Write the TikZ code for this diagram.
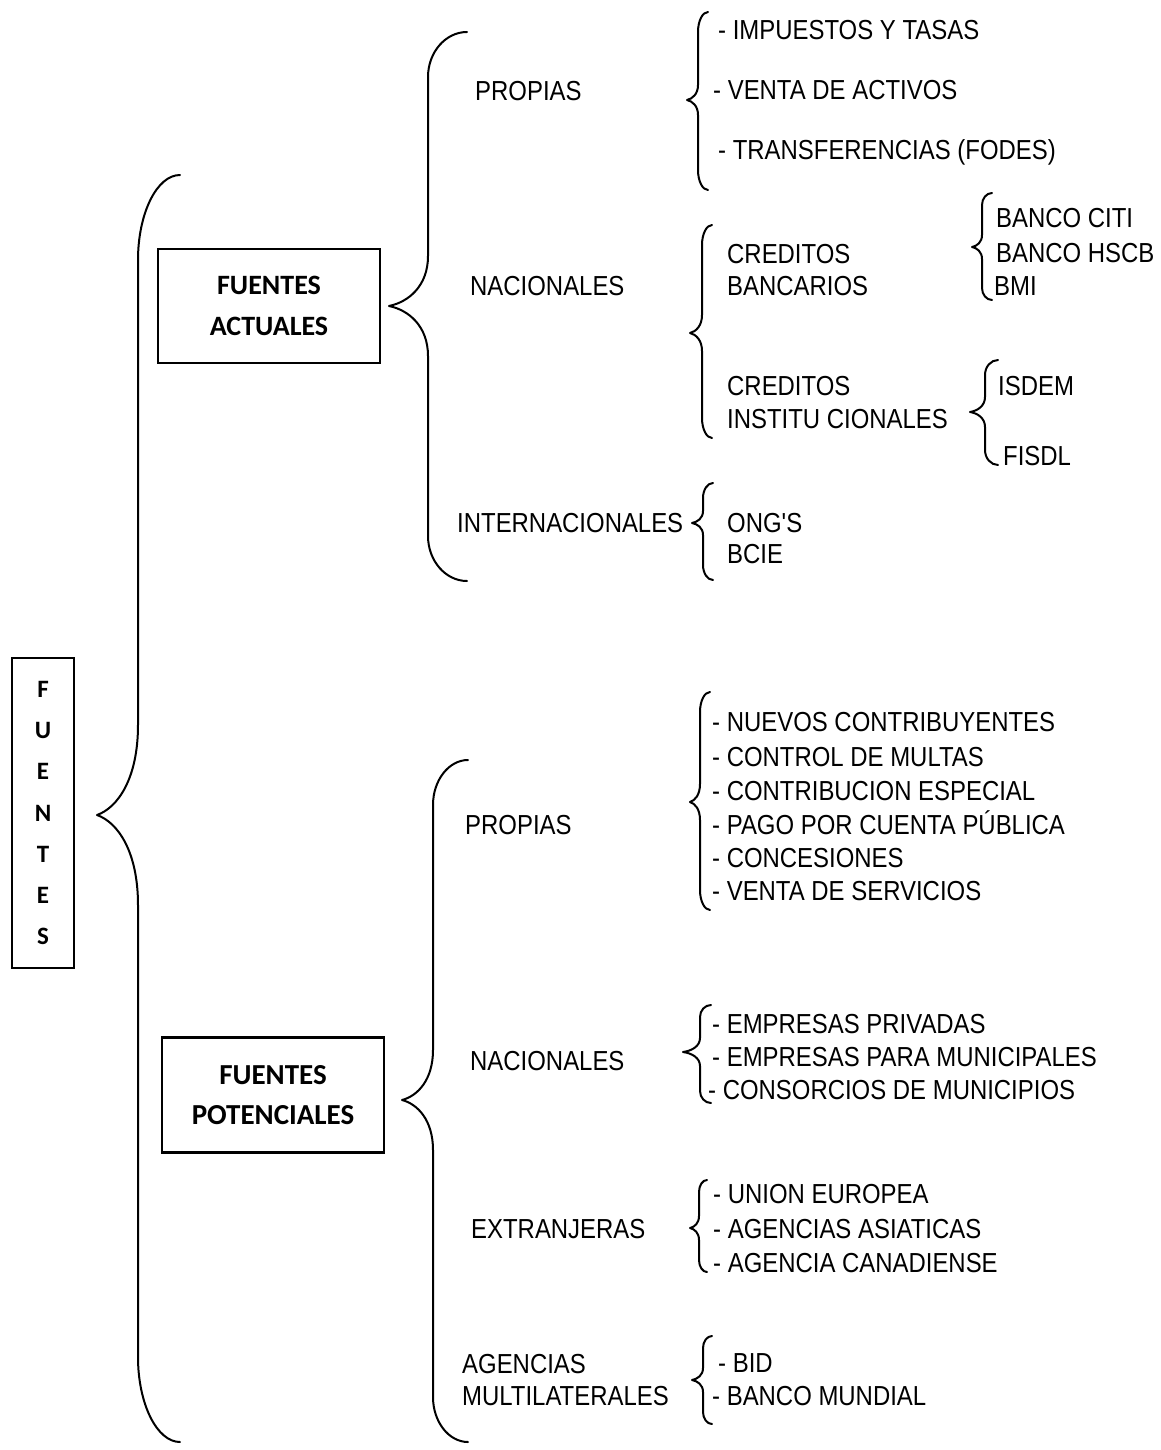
\documentclass[tikz,border=0pt]{standalone}
\usepackage{fontspec}
\setmainfont{Liberation Sans}[FakeStretch=0.87]
\newfontfamily\cajafont{Carlito}
\usetikzlibrary{calc}

% apostrofe recto, sin la conversion de comillas
\newcommand{\apos}{{\font\aposfont="Liberation Sans:extend=0.87" at 27.5pt\aposfont'}}

% llave: xfin, xlinea, xpunta, yarriba, ypunta, yabajo, hfin, hpunta
\newcommand{\llave}[8]{%
  \draw[llave] (#1,#4) .. controls ({#2+0.45*(#1-#2)},#4) and (#2,{#4+0.45*#7}) .. (#2,{#4+#7})
    -- (#2,{#5-#8}) .. controls (#2,{#5-0.4*#8}) and ({#3+0.5*(#2-#3)},{#5-0.08*#8}) .. (#3,#5)
    .. controls ({#3+0.5*(#2-#3)},{#5+0.08*#8}) and (#2,{#5+0.4*#8}) .. (#2,{#5+#8})
    -- (#2,{#6-#7}) .. controls (#2,{#6-0.45*#7}) and ({#2+0.45*(#1-#2)},#6) .. (#1,#6);}

\begin{document}
\begin{tikzpicture}[x=1pt,y=-1pt,
  txt/.style={anchor=base west,inner sep=0pt,font=\fontsize{27.5}{30}\selectfont},
  caja/.style={draw,line width=2.4pt,inner sep=0pt,align=center,font=\cajafont\bfseries\fontsize{28}{41}\selectfont},
  llave/.style={line width=2pt,line cap=round,line join=round}]

\useasboundingbox (0,0) rectangle (1161,1450);

\node[caja,minimum width=62,minimum height=310,font=\cajafont\bfseries\fontsize{25}{41.3}\selectfont] (fuentes) at (43,813) {F\\U\\E\\N\\T\\E\\S};

\node[caja,minimum width=222,minimum height=114] (actuales) at (269,306) {FUENTES\\ACTUALES};
\node[caja,minimum width=222,minimum height=115,font=\cajafont\bfseries\fontsize{29}{40}\selectfont] (potenciales) at (273,1095) {FUENTES\\POTENCIALES};

% fuentes actuales
\node[txt] (propiasA) at (475,101) {PROPIAS};
\node[txt] (impuestos) at (718,40) {- IMPUESTOS Y TASAS};
\node[txt] (activos) at (713,100) {- VENTA DE ACTIVOS};
\node[txt] (fodes) at (718,160) {- TRANSFERENCIAS (FODES)};

\node[txt] (nacA) at (470,295) {NACIONALES};
\node[txt] (credB1) at (727,263) {CREDITOS};
\node[txt] (credB2) at (727,295) {BANCARIOS};
\node[txt] (citi) at (996,227) {BANCO CITI};
\node[txt] (hscb) at (996,262) {BANCO HSCB};
\node[txt] (bmi) at (994,295) {BMI};
\node[txt] (credI1) at (727,395) {CREDITOS};
\node[txt] (credI2) at (727,428) {INSTITU CIONALES};
\node[txt] (isdem) at (998,395) {ISDEM};
\node[txt] (fisdl) at (1003,465) {FISDL};

\node[txt] (interA) at (457,532) {INTERNACIONALES};
\node[txt] (ongs) at (727,532) {ONG\apos S};
\node[txt] (bcie) at (727,563) {BCIE};

% fuentes potenciales
\node[txt] (propiasP) at (465,834) {PROPIAS};
\node[txt] (contrib) at (712,731) {- NUEVOS CONTRIBUYENTES};
\node[txt] (multas) at (712,766) {- CONTROL DE MULTAS};
\node[txt] (especial) at (712,800) {- CONTRIBUCION ESPECIAL};
\node[txt] (pago) at (712,834) {- PAGO POR CUENTA PÚBLICA};
\node[txt] (concesiones) at (712,867) {- CONCESIONES};
\node[txt] (servicios) at (712,900) {- VENTA DE SERVICIOS};

\node[txt] (nacP) at (470,1070) {NACIONALES};
\node[txt] (privadas) at (712,1033) {- EMPRESAS PRIVADAS};
\node[txt] (paramun) at (712,1066) {- EMPRESAS PARA MUNICIPALES};
\node[txt] (consorcios) at (708,1099) {- CONSORCIOS DE MUNICIPIOS};

\node[txt] (extP) at (471,1238) {EXTRANJERAS};
\node[txt] (europea) at (713,1203) {- UNION EUROPEA};
\node[txt] (asiaticas) at (713,1238) {- AGENCIAS ASIATICAS};
\node[txt] (canadiense) at (713,1272) {- AGENCIA CANADIENSE};

\node[txt] (agen1) at (462,1373) {AGENCIAS};
\node[txt] (agen2) at (462,1405) {MULTILATERALES};
\node[txt] (bid) at (718,1372) {- BID};
\node[txt] (mundial) at (712,1405) {- BANCO MUNDIAL};

% llaves
\llave{180}{138}{97}{175}{815}{1442}{85}{90}
\llave{467}{428}{389}{32}{306}{581}{45}{50}
\llave{468}{433}{402}{760}{1100}{1442}{45}{50}

\llave{708}{698}{687}{12}{100}{190}{20}{15}
\llave{712}{702}{690}{225}{333}{438}{20}{18}
\llave{992}{982}{972}{193}{247}{300}{12}{12}
\llave{998}{985}{970}{360}{412}{465}{15}{15}
\llave{713}{703}{692}{483}{523}{580}{15}{12}

\llave{710}{700}{690}{692}{802}{910}{20}{18}
\llave{711}{700}{683}{1005}{1052}{1103}{12}{14}
\llave{707}{699}{690}{1180}{1228}{1272}{12}{12}
\llave{712}{703}{692}{1336}{1380}{1424}{12}{12}

\end{tikzpicture}
\end{document}
